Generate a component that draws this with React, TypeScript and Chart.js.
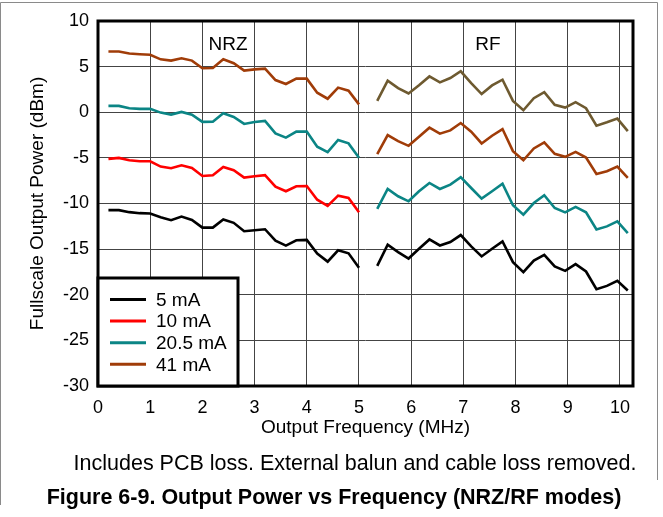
import React, { useEffect, useRef } from 'react';
import { Chart, registerables } from 'chart.js';

Chart.register(...registerables);

const FONT = "'Liberation Sans', Arial, sans-serif";

const nrzFreq = [0.2, 0.4, 0.6, 0.8, 1.0, 1.2, 1.4, 1.6, 1.8, 2.0, 2.2, 2.4, 2.6, 2.8, 3.0, 3.2, 3.4, 3.6, 3.8, 4.0, 4.2, 4.4, 4.6, 4.8, 5.0];
const rfFreq = [5.35, 5.55, 5.75, 5.95, 6.15, 6.35, 6.55, 6.75, 6.95, 7.15, 7.35, 7.55, 7.75, 7.95, 8.15, 8.35, 8.55, 8.75, 8.95, 9.15, 9.35, 9.55, 9.75, 9.95, 10.15];

const legendLabels = ['5 mA', '10 mA', '20.5 mA', '41 mA'];
const legendColors = ['#000000', '#ff0000', '#0b8585', '#a03c08'];

const nrz5mA = [-10.73, -10.73, -10.95, -11.06, -11.1, -11.5, -11.83, -11.43, -11.8, -12.64, -12.64, -11.76, -12.12, -13.04, -12.93, -12.82, -14.07, -14.62, -14.03, -13.99, -15.49, -16.37, -15.13, -15.46, -17.03];
const nrz10mA = [-5.11, -5.0, -5.26, -5.37, -5.37, -5.95, -6.14, -5.81, -6.1, -6.98, -6.9, -5.99, -6.36, -7.16, -7.01, -6.9, -8.15, -8.66, -8.11, -8.08, -9.58, -10.27, -9.14, -9.4, -10.97];
const nrz20mA = [0.7, 0.7, 0.44, 0.37, 0.37, -0.04, -0.26, 0.04, -0.26, -1.06, -1.03, -0.11, -0.51, -1.28, -1.06, -0.95, -2.31, -2.78, -2.12, -2.12, -3.77, -4.36, -3.04, -3.41, -4.98];
const nrz41mA = [6.65, 6.65, 6.43, 6.36, 6.3, 5.8, 5.66, 5.92, 5.66, 4.82, 4.85, 5.8, 5.37, 4.56, 4.7, 4.78, 3.53, 3.1, 3.68, 3.68, 2.14, 1.48, 2.7, 2.36, 0.86];

const rfBlack = [-16.83, -14.52, -15.33, -16.03, -14.96, -13.94, -14.6, -14.23, -13.46, -14.7, -15.8, -14.96, -14.16, -16.43, -17.53, -16.25, -15.62, -16.9, -17.38, -16.65, -17.45, -19.4, -19.03, -18.48, -19.54];
const rfTeal = [-10.6, -8.41, -9.21, -9.76, -8.66, -7.75, -8.41, -7.93, -7.12, -8.3, -9.47, -8.66, -7.82, -10.2, -11.23, -9.95, -9.1, -10.49, -10.97, -10.38, -10.97, -12.84, -12.51, -11.96, -13.24];
const rfRust = [-4.6, -2.5, -3.16, -3.68, -2.68, -1.69, -2.35, -1.99, -1.18, -2.13, -3.42, -2.57, -1.84, -4.26, -5.26, -3.97, -3.31, -4.56, -4.89, -4.34, -4.96, -6.76, -6.47, -5.95, -7.2];
const rfOlive = [1.25, 3.46, 2.65, 2.06, 2.95, 3.93, 3.27, 3.75, 4.49, 3.2, 1.99, 2.94, 3.57, 1.25, 0.22, 1.54, 2.21, 0.81, 0.51, 1.1, 0.44, -1.47, -1.1, -0.7, -2.06];
const rfColors = ['#000000', '#0b8585', '#a03c08', '#6e5a30'];

const xTicks = [0, 1, 2, 3, 4, 5, 6, 7, 8, 9, 10];
const yTicks = [-30, -25, -20, -15, -10, -5, 0, 5, 10];

const modeLabels = [
  { text: 'NRZ', x: 2.49, y: 7.45 },
  { text: 'RF', x: 7.47, y: 7.45 },
];

const xTitle = 'Output Frequency (MHz)';
const yTitle = 'Fullscale Output Power (dBm)';
const caption = 'Includes PCB loss. External balun and cable loss removed.';
const figTitle = 'Figure 6-9. Output Power vs Frequency (NRZ/RF modes)';

const toPts = (xs: number[], ys: number[]) => xs.map((x, i) => ({ x, y: ys[i] }));

const overlayPlugin = {
  id: 'overlay',
  afterDraw(chart: any) {
    const { ctx, chartArea, scales } = chart;
    const { left, top, right, bottom } = chartArea;
    ctx.save();
    // mode labels
    ctx.fillStyle = '#000';
    ctx.font = `19px ${FONT}`;
    ctx.textAlign = 'center';
    ctx.textBaseline = 'middle';
    modeLabels.forEach((m) => {
      ctx.fillText(m.text, scales.x.getPixelForValue(m.x), scales.y.getPixelForValue(m.y));
    });
    // plot border
    ctx.strokeStyle = '#000';
    ctx.lineWidth = 3;
    ctx.strokeRect(left, top, right - left, bottom - top);
    // legend box
    const lx = left, ly = 278, lw = 140, lh = bottom - 278;
    ctx.fillStyle = '#fff';
    ctx.fillRect(lx, ly, lw, lh);
    ctx.lineWidth = 3;
    ctx.strokeRect(lx, ly, lw, lh);
    ctx.font = `19px ${FONT}`;
    ctx.textAlign = 'left';
    ctx.textBaseline = 'middle';
    legendLabels.forEach((lab, i) => {
      const yy = 299.5 + i * 21.6;
      ctx.strokeStyle = legendColors[i];
      ctx.lineWidth = 3;
      ctx.beginPath();
      ctx.moveTo(lx + 12, yy);
      ctx.lineTo(lx + 48, yy);
      ctx.stroke();
      ctx.fillStyle = '#000';
      ctx.fillText(lab, lx + 58, yy + 1);
    });
    // captions
    ctx.textAlign = 'center';
    ctx.fillStyle = '#000';
    ctx.font = `21.5px ${FONT}`;
    ctx.fillText(caption, 355, 464);
    ctx.font = `bold 21.5px ${FONT}`;
    ctx.fillText(figTitle, 334, 498);
    // outer frame
    ctx.strokeStyle = '#8a8a8a';
    ctx.lineWidth = 1;
    ctx.beginPath();
    ctx.moveTo(0.5, 505);
    ctx.lineTo(0.5, 2.5);
    ctx.lineTo(657.5, 2.5);
    ctx.lineTo(657.5, 480);
    ctx.stroke();
    ctx.restore();
  },
};

export default function App() {
  const ref = useRef<HTMLCanvasElement | null>(null);
  useEffect(() => {
    document.body.style.margin = '0';
    const canvas = ref.current;
    if (!canvas) return;
    const lineDs = (label: string, xs: number[], ys: number[], color: string) => ({
      label,
      data: toPts(xs, ys),
      borderColor: color,
      backgroundColor: color,
      borderWidth: 2.6,
      pointRadius: 0,
      tension: 0,
      fill: false,
    });
    const chart = new Chart(canvas, {
      type: 'line',
      data: {
        datasets: [
          lineDs(legendLabels[0], nrzFreq, nrz5mA, legendColors[0]),
          lineDs(legendLabels[1], nrzFreq, nrz10mA, legendColors[1]),
          lineDs(legendLabels[2], nrzFreq, nrz20mA, legendColors[2]),
          lineDs(legendLabels[3], nrzFreq, nrz41mA, legendColors[3]),
          lineDs('RF 1', rfFreq, rfBlack, rfColors[0]),
          lineDs('RF 2', rfFreq, rfTeal, rfColors[1]),
          lineDs('RF 3', rfFreq, rfRust, rfColors[2]),
          lineDs('RF 4', rfFreq, rfOlive, rfColors[3]),
        ],
      },
      options: {
        responsive: false,
        animation: false,
        devicePixelRatio: 1,
        layout: { padding: { top: 21, right: 30, left: 0, bottom: 76 } },
        plugins: { legend: { display: false }, tooltip: { enabled: false } },
        scales: {
          x: {
            type: 'linear',
            min: 0,
            max: 10.25,
            afterBuildTicks: (s: any) => { s.ticks = xTicks.map((v) => ({ value: v })); },
            afterFit: (s: any) => { s.height = 55; },
            grid: { color: '#444', lineWidth: 1, drawTicks: false },
            border: { display: false },
            ticks: { padding: 11, color: '#000', font: { family: FONT, size: 18 } },
            title: { display: true, text: xTitle, color: '#000', font: { family: FONT, size: 19 }, padding: { top: 0, bottom: 2 } },
          },
          y: {
            type: 'linear',
            min: -30,
            max: 10,
            afterBuildTicks: (s: any) => { s.ticks = yTicks.map((v) => ({ value: v })); },
            afterFit: (s: any) => { s.width = 98; },
            grid: { color: '#444', lineWidth: 1, drawTicks: false },
            border: { display: false },
            ticks: { padding: 9, color: '#000', font: { family: FONT, size: 18 } },
            title: { display: true, text: yTitle, color: '#000', font: { family: FONT, size: 19 }, padding: { top: 26, bottom: 0 } },
          },
        },
      },
      plugins: [overlayPlugin],
    });
    return () => chart.destroy();
  }, []);
  return (
    <div style={{ width: 663, height: 517, background: '#fff' }}>
      <canvas ref={ref} width={663} height={517} style={{ display: 'block' }} />
    </div>
  );
}
